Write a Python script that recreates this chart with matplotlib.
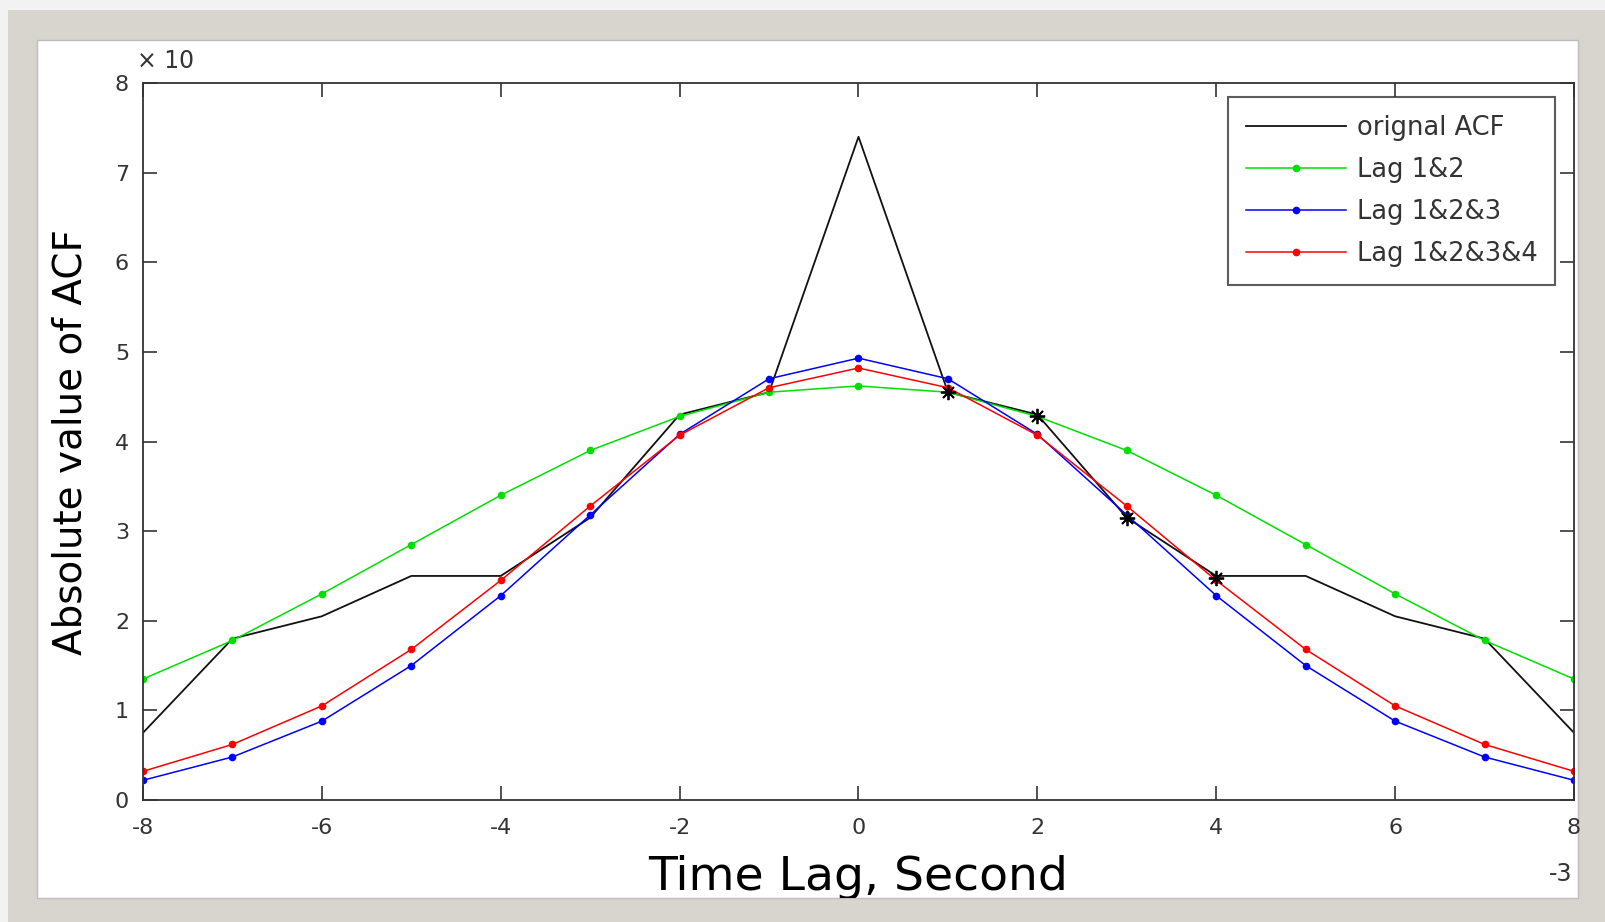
"""Recreate ACF comparison chart (MATLAB-style screenshot)."""

import numpy as np
import matplotlib
matplotlib.use('Agg')
import matplotlib.pyplot as plt
from matplotlib.patches import Rectangle

plt.rcParams['font.family'] = ['DejaVu Sans']
plt.rcParams['axes.unicode_minus'] = False

# data (values in units of 1e-3)
lags = np.arange(-8, 9)
original = [0.75, 1.8, 2.05, 2.5, 2.5, 3.15, 4.3, 4.55, 7.4,
            4.55, 4.3, 3.15, 2.5, 2.5, 2.05, 1.8, 0.75]
lag12 = [1.35, 1.78, 2.3, 2.85, 3.4, 3.9, 4.28, 4.55, 4.62,
         4.55, 4.28, 3.9, 3.4, 2.85, 2.3, 1.78, 1.35]
lag123 = [0.22, 0.48, 0.88, 1.5, 2.28, 3.18, 4.08, 4.7, 4.93,
          4.7, 4.08, 3.18, 2.28, 1.5, 0.88, 0.48, 0.22]
lag1234 = [0.32, 0.62, 1.05, 1.68, 2.45, 3.28, 4.07, 4.6, 4.82,
           4.6, 4.07, 3.28, 2.45, 1.68, 1.05, 0.62, 0.32]
star_lags = [1, 2, 3, 4]
star_vals = [4.55, 4.28, 3.15, 2.48]

W, H = 1606, 922
fig = plt.figure(figsize=(W / 100, H / 100), dpi=100, facecolor='#d8d5ce')

# screenshot frame: light outer strip, grey border, white panel
fig.patches.append(Rectangle((0, 0), 8 / W, 1, transform=fig.transFigure,
                             facecolor='#f2f2f2', edgecolor='none', zorder=-2))
fig.patches.append(Rectangle((0, 1 - 10 / H), 1, 10 / H, transform=fig.transFigure,
                             facecolor='#f2f2f2', edgecolor='none', zorder=-2))
panel = Rectangle((37 / W, 24 / H), (1578 - 37) / W, (898 - 40) / H,
                  transform=fig.transFigure, facecolor='white',
                  edgecolor='#bdbdbd', linewidth=1, zorder=-1)
fig.patches.append(panel)

left, right, top, bottom = 143, 1574, 83, 800
ax = fig.add_axes([left / W, (H - bottom) / H, (right - left) / W, (bottom - top) / H])
ax.set_zorder(1)
ax.set_facecolor('white')

ax.plot(lags, original, color='#111111', lw=1.3, label='orignal ACF')
ax.plot(lags, lag12, color='#00e000', lw=1.1, marker='o', ms=4.5, label='Lag 1&2')
ax.plot(lags, lag123, color='#0000ff', lw=1.1, marker='o', ms=4.5, label='Lag 1&2&3')
ax.plot(lags, lag1234, color='#ff0000', lw=1.1, marker='o', ms=4.5, label='Lag 1&2&3&4')
ax.plot(star_lags, star_vals, ls='none', marker=(8, 2, 0), ms=11, mew=1.3, color='black')

ax.set_xlim(-8, 8)
ax.set_ylim(0, 8)
ax.set_xticks(range(-8, 9, 2))
ax.set_yticks(range(0, 9))
ax.tick_params(direction='in', top=True, right=True, length=10, width=1.2,
               labelsize=16, colors='#333333')
ax.tick_params(axis='x', pad=13)
ax.tick_params(axis='y', pad=10)
for s in ax.spines.values():
    s.set_linewidth(1.3)
    s.set_color('#333333')

ax.set_ylabel('Absolute value of ACF', fontsize=28, labelpad=18)
xl = ax.set_xlabel('Time Lag, Second', fontsize=34, labelpad=12)
xl.set_clip_path(panel)

fig.text(137 / W, 1 - 61 / H, '× 10', fontsize=17, color='#333333', va='center')
fig.text(1572 / W, 1 - 874 / H, '-3', fontsize=17, color='#333333', va='center', ha='right')

leg = ax.legend(loc='upper right', bbox_to_anchor=(0.987, 0.98), borderaxespad=0,
                fontsize=18.5, frameon=True, fancybox=False, edgecolor='#333333',
                handlelength=3.9, borderpad=0.7, labelspacing=0.62, handletextpad=0.4)
leg.get_frame().set_linewidth(1.5)
for t in leg.get_texts():
    t.set_color('#333333')

fig.savefig('out.png', dpi=100, facecolor=fig.get_facecolor())
